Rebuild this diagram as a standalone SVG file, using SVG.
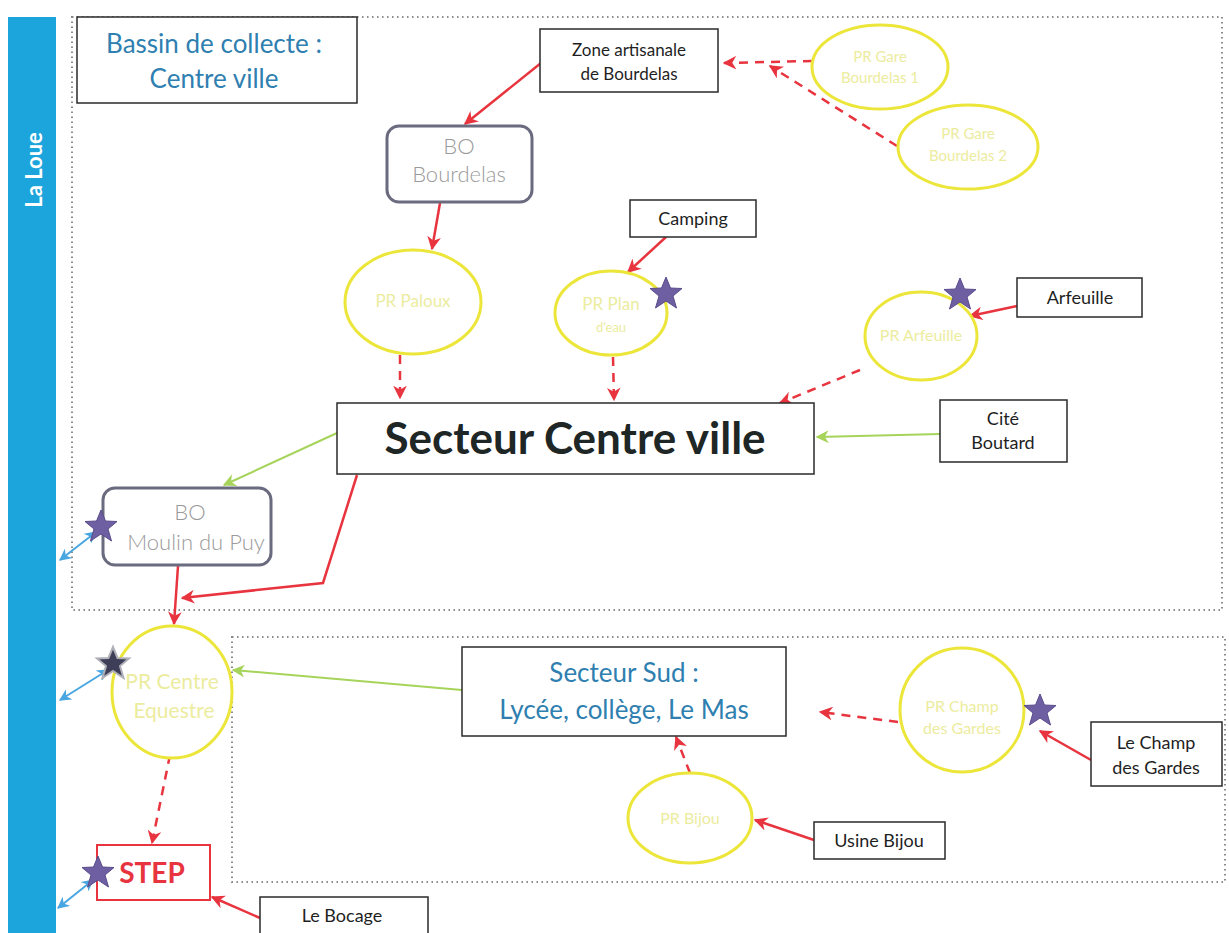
<svg xmlns="http://www.w3.org/2000/svg" width="1229" height="933" viewBox="0 0 1229 933">
<style>
.box{fill:#fff;stroke:#2a2a2a;stroke-width:1.5}
.bo{fill:#fff;stroke:#6b6b80;stroke-width:3}
.pr{fill:#fff;stroke:#ece63a;stroke-width:3}
.prt{font-family:Lato,"Open Sans",sans-serif;font-size:15px;fill:#ecec9e;text-anchor:middle}
.bt{font-family:Lato,"Open Sans",sans-serif;font-size:18px;fill:#1f1f1f;text-anchor:middle}
.bot{font-family:Lato,"Open Sans",sans-serif;font-size:22px;font-weight:300;fill:#9a9a9a;text-anchor:middle}
.blue{font-family:Lato,"Open Sans",sans-serif;font-size:26px;fill:#2f7fb0;text-anchor:middle}
.dot{fill:none;stroke:#8a8a8a;stroke-width:2;stroke-dasharray:1.5 3.5}
.red{fill:none;stroke:#e8343e;stroke-width:2.5;marker-end:url(#ar)}
.rdash{fill:none;stroke:#e8343e;stroke-width:2.5;stroke-dasharray:9 7;marker-end:url(#ar)}
.grn{fill:none;stroke:#a6d45a;stroke-width:2;marker-end:url(#ag)}
.blu{fill:none;stroke:#4aa6e0;stroke-width:2;marker-start:url(#ab);marker-end:url(#ab)}
.star{fill:#6e5ea2;stroke:#5a4c8a;stroke-width:1}
</style>
<defs>
<marker id="ar" viewBox="0 0 10 10" refX="9" refY="5" markerWidth="5.5" markerHeight="5.5" orient="auto" markerUnits="strokeWidth">
<path d="M0,0 L10,5 L0,10 L3,5 Z" fill="#e8343e"/>
</marker>
<marker id="ag" viewBox="0 0 10 10" refX="9" refY="5" markerWidth="6.5" markerHeight="6.5" orient="auto" markerUnits="strokeWidth">
<path d="M0,0 L10,5 L0,10 L3,5 Z" fill="#a6d45a"/>
</marker>
<marker id="ab" viewBox="0 0 10 10" refX="9" refY="5" markerWidth="6" markerHeight="6" orient="auto-start-reverse" markerUnits="strokeWidth">
<path d="M0,0 L10,5 L0,10 L3,5 Z" fill="#4aa6e0"/>
</marker>
<polygon id="st" points="0,-17 4.5,-6 16,-5.5 7,2 10.5,14 0,7 -10.5,14 -7,2 -16,-5.5 -4.5,-6"/>
</defs>
<rect width="1229" height="933" fill="#fff"/>

<g id="la-loue">
<rect x="8" y="17" width="48" height="916" fill="#1ca4dc"/>
<text transform="translate(42,170) rotate(-90)" font-family="Lato,'Open Sans',sans-serif" font-size="22" font-weight="bold" fill="#fff" text-anchor="middle">La Loue</text>
</g>

<g id="zones">
<rect class="dot" x="72" y="17" width="1150" height="593"/>
<rect class="dot" x="232" y="637" width="993" height="245"/>
</g>

<g id="title">
<rect class="box" x="77" y="17" width="280" height="86"/>
<text class="blue" x="214" y="53">Bassin de collecte :</text>
<text class="blue" x="214" y="88">Centre ville</text>
</g>

<g id="connectors">
<path class="rdash" d="M812,61 L724,63"/>
<path class="rdash" d="M897,146 L770,66"/>
<path class="red" d="M541,63 L465,124"/>
<path class="red" d="M440,203 L432,249"/>
<path class="red" d="M666,237 L628,272"/>
<path class="red" d="M1017,306 L970,316"/>
<path class="rdash" d="M400,355 L400,398"/>
<path class="rdash" d="M613,357 L614,400"/>
<path class="rdash" d="M860,370 L780,403"/>
<path class="grn" d="M940,434 L817,437"/>
<path class="grn" d="M337,433 L224,485"/>
<path class="red" d="M178,566 L174,624"/>
<path class="red" d="M357,475 L323,583 L182,598"/>
<path class="grn" d="M462,690 L233,670"/>
<path class="rdash" d="M898,722 L820,712"/>
<path class="red" d="M1091,760 L1040,731"/>
<path class="rdash" d="M690,773 L676,737"/>
<path class="red" d="M814,840 L755,820"/>
<path class="rdash" d="M170,755 L152,843"/>
<path class="red" d="M260,918 L212,897"/>
<path class="blu" d="M96,532 L60,560"/>
<path class="blu" d="M108,670 L60,700"/>
<path class="blu" d="M93,880 L58,908"/>
</g>

<g id="zone-artisanale">
<rect class="box" x="540" y="29" width="178" height="63"/>
<text class="bt" x="629" y="56" style="font-size:17px">Zone artisanale</text>
<text class="bt" x="629" y="80" style="font-size:17px">de Bourdelas</text>
</g>

<g id="pr-gare-1">
<ellipse class="pr" cx="880" cy="67" rx="68" ry="42"/>
<text class="prt" x="880" y="62">PR Gare</text>
<text class="prt" x="880" y="83">Bourdelas 1</text>
</g>

<g id="pr-gare-2">
<ellipse class="pr" cx="968" cy="147" rx="70" ry="42"/>
<text class="prt" x="968" y="139">PR Gare</text>
<text class="prt" x="968" y="161">Bourdelas 2</text>
</g>

<g id="bo-bourdelas">
<rect class="bo" x="387" y="126" width="145" height="76" rx="12"/>
<text class="bot" x="459" y="154">BO</text>
<text class="bot" x="459" y="182">Bourdelas</text>
</g>

<g id="pr-paloux">
<ellipse class="pr" cx="413" cy="302" rx="68" ry="52"/>
<text class="prt" x="413" y="307" style="font-size:17px">PR  Paloux</text>
</g>

<g id="camping">
<rect class="box" x="630" y="200" width="126" height="37"/>
<text class="bt" x="693" y="225">Camping</text>
</g>

<g id="pr-plan-eau">
<ellipse class="pr" cx="611" cy="313" rx="56" ry="42"/>
<text class="prt" x="611" y="310" style="font-size:17px">PR Plan</text>
<text class="prt" x="611" y="332" style="font-size:13px">d'eau</text>
<use href="#st" class="star" x="666" y="294"/>
</g>

<g id="pr-arfeuille">
<ellipse class="pr" cx="921" cy="336" rx="56" ry="44"/>
<text class="prt" x="921" y="341" style="font-size:16px">PR Arfeuille</text>
<use href="#st" class="star" x="960" y="295"/>
</g>

<g id="arfeuille">
<rect class="box" x="1017" y="278" width="125" height="39"/>
<text class="bt" x="1080" y="304">Arfeuille</text>
</g>

<g id="secteur-centre">
<rect class="box" x="337" y="403" width="477" height="71"/>
<text x="575" y="454" font-family="Lato,'Open Sans',sans-serif" font-size="44" font-weight="bold" fill="#1e2626" text-anchor="middle">Secteur Centre ville</text>
</g>

<g id="cite-boutard">
<rect class="box" x="940" y="400" width="127" height="62"/>
<text class="bt" x="1003" y="425">Cité</text>
<text class="bt" x="1003" y="449">Boutard</text>
</g>

<g id="bo-moulin">
<rect class="bo" x="103" y="488" width="168" height="77" rx="12"/>
<text class="bot" x="190" y="520">BO</text>
<text class="bot" x="196" y="550">Moulin du Puy</text>
<use href="#st" class="star" x="101" y="527"/>
</g>

<g id="pr-centre-equestre">
<ellipse class="pr" cx="172" cy="692" rx="60" ry="66"/>
<text class="prt" x="172" y="689" style="font-size:21px">PR Centre</text>
<text class="prt" x="174" y="718" style="font-size:21px">Equestre</text>
<use href="#st" x="113" y="664" fill="#3e3e58" stroke="#b0b0b8" stroke-width="2"/>
</g>

<g id="secteur-sud">
<rect class="box" x="462" y="647" width="324" height="89"/>
<text class="blue" x="624" y="682">Secteur Sud :</text>
<text class="blue" x="624" y="719">Lycée, collège, Le Mas</text>
</g>

<g id="pr-champ">
<ellipse class="pr" cx="962" cy="710" rx="62" ry="62"/>
<text class="prt" x="962" y="712" style="font-size:16px">PR Champ</text>
<text class="prt" x="962" y="734" style="font-size:16px">des Gardes</text>
<use href="#st" class="star" x="1040" y="711"/>
</g>

<g id="le-champ">
<rect class="box" x="1091" y="722" width="131" height="64"/>
<text class="bt" x="1156" y="749">Le Champ</text>
<text class="bt" x="1156" y="774">des Gardes</text>
</g>

<g id="pr-bijou">
<ellipse class="pr" cx="690" cy="818" rx="62" ry="45"/>
<text class="prt" x="690" y="824" style="font-size:16px">PR Bijou</text>
</g>

<g id="usine-bijou">
<rect class="box" x="814" y="822" width="131" height="37"/>
<text class="bt" x="879" y="847">Usine Bijou</text>
</g>

<g id="step">
<rect x="97" y="845" width="113" height="55" fill="#fff" stroke="#e8343e" stroke-width="2"/>
<text x="152" y="883" font-family="Lato,'Open Sans',sans-serif" font-size="28" font-weight="bold" fill="#e8343e" text-anchor="middle">STEP</text>
<use href="#st" class="star" x="98" y="873"/>
</g>

<g id="le-bocage">
<rect class="box" x="260" y="897" width="168" height="40"/>
<text class="bt" x="342" y="922">Le Bocage</text>
</g>
</svg>
